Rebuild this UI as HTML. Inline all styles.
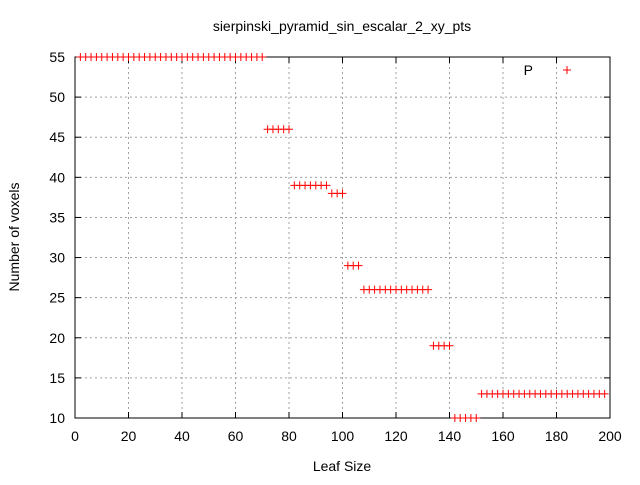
<!DOCTYPE html>
<html><head><meta charset="utf-8"><style>
body{margin:0;background:#fff;}
svg text{font-family:"Liberation Sans",sans-serif;font-size:14px;fill:#000;}
</style></head><body>
<svg id="c" width="640" height="480" xmlns="http://www.w3.org/2000/svg"></svg>
<script>
const xTicks=[0,20,40,60,80,100,120,140,160,180,200];
const yTicks=[10,15,20,25,30,35,40,45,50,55];
const seriesX=[];
const seriesY=[];
const groups=[[2,70,55],[72,80,46],[82,94,39],[96,100,38],[102,106,29],[108,132,26],[134,140,19],[142,150,10],[152,198,13]];
groups.forEach(g=>{for(let x=g[0];x<=g[1];x+=2){seriesX.push(x);seriesY.push(g[2]);}});
const L=75,R=610,T=57,B=418;
const sx=v=>L+(v-0)/(200)*(R-L);
const sy=v=>B-(v-10)/(45)*(B-T);
const svg=document.getElementById('c');
const NS='http://www.w3.org/2000/svg';
function mk(t,a,txt){const e=document.createElementNS(NS,t);for(const k in a)e.setAttribute(k,a[k]);if(txt!==undefined)e.textContent=txt;svg.appendChild(e);return e;}
xTicks.forEach(v=>{const x=sx(v);
 if(v>0&&v<200){const g=mk('line',{x1:x,y1:T,x2:x,y2:B,stroke:'#a0a0a0','stroke-dasharray':'2,3'});
 }
 const t1=mk('line',{x1:x,y1:B,x2:x,y2:B-6,stroke:'#000'});
 const t2=mk('line',{x1:x,y1:T,x2:x,y2:T+6,stroke:'#000'});
 const l=mk('text',{x:x,y:B+23,'text-anchor':'middle'},String(v));
});
yTicks.forEach(v=>{const y=sy(v);
 if(v>10&&v<55){const g=mk('line',{x1:L,y1:y,x2:R,y2:y,stroke:'#a0a0a0','stroke-dasharray':'2,3'});
 }
 const t1=mk('line',{x1:L,y1:y,x2:L+6,y2:y,stroke:'#000'});
 const t2=mk('line',{x1:R,y1:y,x2:R-6,y2:y,stroke:'#000'});
 const l=mk('text',{x:L-10,y:y+5,'text-anchor':'end'},String(v));
});
const fr=mk('rect',{x:L,y:T,width:R-L,height:B-T,fill:'none',stroke:'#000'});

function plus(x,y,name){const p=mk('path',{d:`M${x-4},${y}H${x+4}M${x},${y-4}V${y+4}`,stroke:'#f00','stroke-width':1});
 }
seriesX.forEach((v,i)=>plus(sx(v),sy(seriesY[i]),'data-point'));
const lt=mk('text',{x:533,y:75,'text-anchor':'end'},'P');
plus(567,70,'legend-marker');
const ti=mk('text',{x:342,y:31,'text-anchor':'middle'},'sierpinski_pyramid_sin_escalar_2_xy_pts');
const xt=mk('text',{x:342,y:471,'text-anchor':'middle'},'Leaf Size');
const yt=mk('text',{x:19,y:237,'text-anchor':'middle',transform:'rotate(-90 19 237)'},'Number of voxels');
</script>
</body></html>
